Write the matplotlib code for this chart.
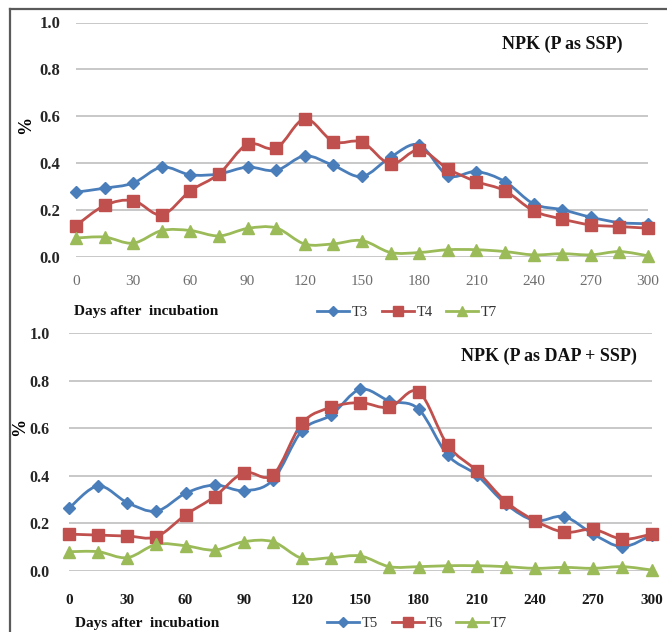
import numpy as np
import matplotlib
matplotlib.use("Agg")
import matplotlib.pyplot as plt
from matplotlib.path import Path
from matplotlib.patches import PathPatch
from matplotlib.lines import Line2D

W, H = 667, 632

DAYS = [0, 15, 30, 45, 60, 75, 90, 105, 120, 135, 150,
        165, 180, 195, 210, 225, 240, 255, 270, 285, 300]
XTICKS = [0, 30, 60, 90, 120, 150, 180, 210, 240, 270, 300]
YTICKS = [0.0, 0.2, 0.4, 0.6, 0.8, 1.0]

# NPK (P as SSP)
T3 = [0.275, 0.292, 0.314, 0.382, 0.349, 0.353, 0.382, 0.368, 0.430, 0.389, 0.342,
      0.425, 0.477, 0.346, 0.363, 0.320, 0.225, 0.200, 0.168, 0.145, 0.140]
T4 = [0.132, 0.218, 0.239, 0.178, 0.281, 0.353, 0.480, 0.463, 0.588, 0.491, 0.489,
      0.395, 0.456, 0.375, 0.320, 0.281, 0.195, 0.160, 0.135, 0.128, 0.121]
T7_TOP = [0.079, 0.083, 0.057, 0.111, 0.111, 0.088, 0.120, 0.122, 0.053, 0.054, 0.068,
          0.017, 0.017, 0.029, 0.029, 0.021, 0.007, 0.012, 0.007, 0.021, 0.003]

# NPK (P as DAP + SSP)
T5 = [0.263, 0.357, 0.287, 0.251, 0.326, 0.361, 0.337, 0.382, 0.590, 0.656, 0.764,
      0.715, 0.681, 0.487, 0.403, 0.281, 0.211, 0.228, 0.154, 0.101, 0.150]
T6 = [0.154, 0.150, 0.146, 0.143, 0.235, 0.312, 0.413, 0.403, 0.621, 0.688, 0.708,
      0.688, 0.754, 0.529, 0.421, 0.291, 0.211, 0.162, 0.174, 0.133, 0.154]
T7_BOT = [0.080, 0.080, 0.055, 0.111, 0.105, 0.087, 0.122, 0.122, 0.052, 0.055, 0.062,
          0.017, 0.017, 0.021, 0.021, 0.017, 0.010, 0.014, 0.010, 0.017, 0.003]

BLUE = "#4a7ebb"
RED = "#c0504d"
GREEN = "#9bbb59"
SERIF = "Liberation Serif"


def smooth_path(xs, ys):
    # Excel style smoothed line: cubic bezier through every point
    pts = np.column_stack([xs, ys]).astype(float)
    p = np.vstack([pts[0], pts, pts[-1]])
    verts = [pts[0]]
    codes = [Path.MOVETO]
    for i in range(len(pts) - 1):
        p0, p1, p2, p3 = p[i], p[i + 1], p[i + 2], p[i + 3]
        verts += [p1 + (p2 - p0) / 6, p2 - (p3 - p1) / 6, p2]
        codes += [Path.CURVE4] * 3
    return Path(np.array(verts), codes)


def draw_series(ax, ys, color, marker, ms):
    ax.add_patch(PathPatch(smooth_path(DAYS, ys), fill=False, edgecolor=color,
                           linewidth=2.0, clip_on=False, zorder=3))
    ax.plot(DAYS, ys, linestyle="none", marker=marker, markersize=ms,
            color=color, markeredgecolor=color, clip_on=False, zorder=4)


def px(x0, y0, x1, y1):
    return [x0 / W, 1 - y1 / H, (x1 - x0) / W, (y1 - y0) / H]


def style(ax, tick_color, tick_weight, xpad, ypad, ysize):
    ax.set_xlim(0, 300)
    ax.set_ylim(0, 1.0)
    ax.set_xticks(XTICKS)
    ax.set_yticks(YTICKS)
    ax.set_yticklabels([f"{v:.1f}" for v in YTICKS], family=SERIF,
                       fontweight="bold", fontsize=ysize, color="#262626")
    ax.set_xticklabels([str(v) for v in XTICKS], family=SERIF,
                       fontweight=tick_weight, fontsize=11, color=tick_color)
    ax.tick_params(axis="both", length=0)
    ax.tick_params(axis="x", pad=xpad)
    ax.tick_params(axis="y", pad=ypad)
    for s in ax.spines.values():
        s.set_visible(False)
    ax.set_facecolor("white")
    ax.grid(axis="y", color="#c4c4c4", linewidth=1.3)
    ax.set_axisbelow(True)


fig = plt.figure(figsize=(W / 100, H / 100), dpi=100)
fig.patch.set_facecolor("white")

ax1 = fig.add_axes(px(76, 22.5, 648, 256.5))
ax2 = fig.add_axes(px(69, 333.3, 651.5, 570.7))

style(ax1, "#6e6e6e", "normal", 13, 11.5, 12)
style(ax2, "#1a1a1a", "bold", 17, 14, 11.5)

draw_series(ax1, T3, BLUE, "D", 6.5)
draw_series(ax1, T4, RED, "s", 8)
draw_series(ax1, T7_TOP, GREEN, "^", 8)

draw_series(ax2, T5, BLUE, "D", 6.5)
draw_series(ax2, T6, RED, "s", 8)
draw_series(ax2, T7_BOT, GREEN, "^", 8)

ax1.text(0.955, 0.905, "NPK (P as SSP)", transform=ax1.transAxes, ha="right",
         va="center", family=SERIF, fontweight="bold", fontsize=13, color="#111111")
ax2.text(0.975, 0.905, "NPK (P as DAP + SSP)", transform=ax2.transAxes, ha="right",
         va="center", family=SERIF, fontweight="bold", fontsize=13, color="#111111")

# axis titles
fig.text(26 / W, 1 - 125 / H, "%", rotation=90, ha="center", va="center",
         family=SERIF, fontweight="bold", fontsize=13)
fig.text(20 / W, 1 - 427 / H, "%", rotation=90, ha="center", va="center",
         family=SERIF, fontweight="bold", fontsize=13)
fig.text(146 / W, 1 - 312 / H, "Days after  incubation", ha="center", va="center",
         family=SERIF, fontweight="bold", fontsize=11, color="#111111")
fig.text(147 / W, 1 - 624 / H, "Days after  incubation", ha="center", va="center",
         family=SERIF, fontweight="bold", fontsize=11, color="#111111")


def legend_handles(names):
    specs = [(BLUE, "D", 5), (RED, "s", 7), (GREEN, "^", 7)]
    return [Line2D([], [], color=c, marker=m, markersize=s, linewidth=2.0, label=n)
            for (c, m, s), n in zip(specs, names)]


for names, cx, cy in [(["T3", "T4", "T7"], 407, 312), (["T5", "T6", "T7"], 417, 623)]:
    fig.legend(handles=legend_handles(names), loc="center",
               bbox_to_anchor=(cx / W, 1 - cy / H), ncol=3, frameon=False,
               handlelength=2.2, handletextpad=0.2, columnspacing=0.9,
               prop={"family": SERIF, "size": 10.5}, labelcolor="#333333",
               borderaxespad=0, borderpad=0)

# border of the cropped screenshot
fig.add_artist(Line2D([10 / W, 10 / W], [0, 1 - 9 / H], transform=fig.transFigure,
                      color="#5a5a5a", linewidth=1.6))
fig.add_artist(Line2D([10 / W, 1], [1 - 9 / H, 1 - 9 / H], transform=fig.transFigure,
                      color="#5a5a5a", linewidth=1.6))

fig.savefig("out.png", dpi=100)
